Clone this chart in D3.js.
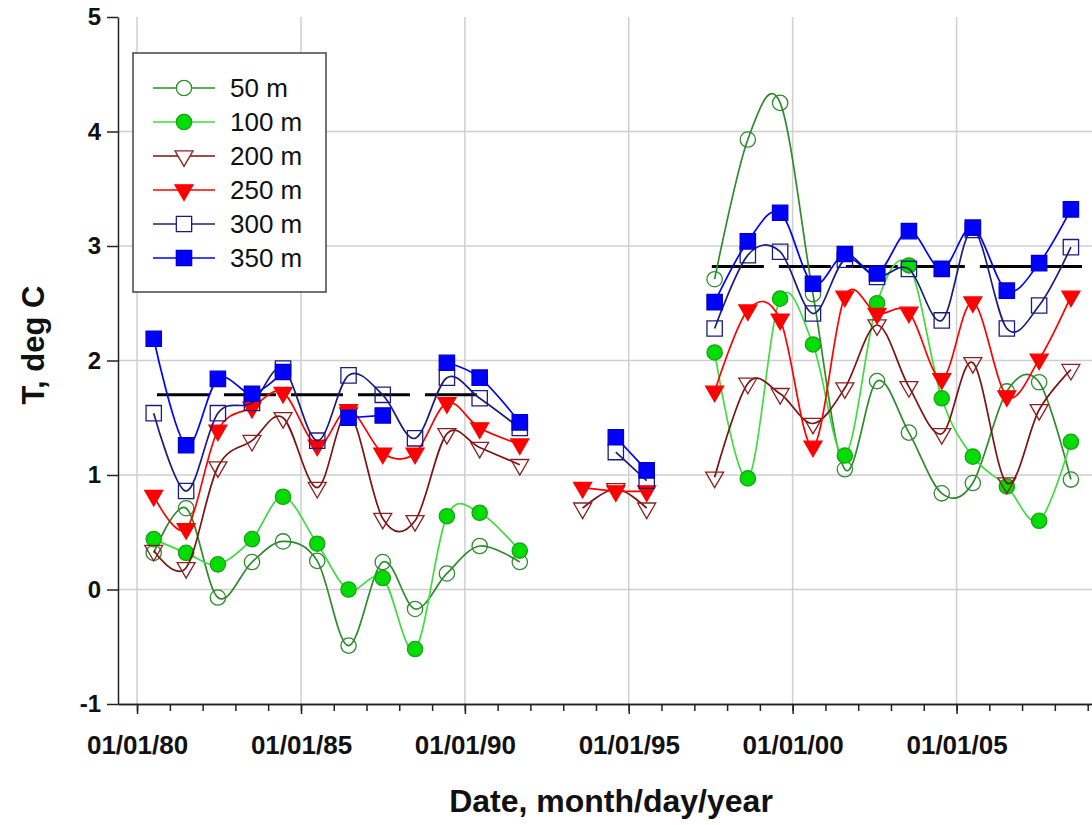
<!DOCTYPE html>
<html><head><meta charset="utf-8">
<script src="https://cdn.jsdelivr.net/npm/d3@7"></script>
<style>
body{margin:0;background:#fff;}
svg{display:block;font-family:"Liberation Sans",Arial,Helvetica,sans-serif;}
</style>
</head><body>
<svg id="chart" width="1092" height="825"></svg>
<script>
// ---------------- data ----------------
const dates = [
  "1980-07-05","1981-07-01","1982-06-20","1983-07-05","1984-06-15","1985-07-01",
  "1986-06-15","1987-07-01","1988-06-25","1989-06-15","1990-06-15","1991-09-05",
  "1993-08-05","1994-08-10","1995-07-20",
  "1997-08-15","1998-08-20","1999-08-15","2000-08-15","2001-08-05","2002-07-30",
  "2003-07-20","2004-07-20","2005-07-01","2006-07-15","2007-07-10","2008-06-28"
];
const t50  = [0.32,0.71,-0.07,0.24,0.42,0.25,-0.49,0.24,-0.17,0.14,0.38,0.24,
              null,null,null,
              2.71,3.93,4.25,2.58,1.05,1.82,1.37,0.84,0.93,1.73,1.81,0.96];
const t100 = [0.44,0.32,0.22,0.44,0.81,0.40,0.00,0.10,-0.52,0.64,0.67,0.34,
              null,null,null,
              2.07,0.97,2.54,2.14,1.17,2.50,2.83,1.67,1.16,0.90,0.60,1.29];
const t200 = [0.34,0.19,1.07,1.30,1.50,0.89,1.54,0.62,0.60,1.36,1.24,1.09,
              0.71,0.88,0.71,
              0.98,1.80,1.71,1.45,1.76,2.31,1.77,1.36,1.98,0.93,1.57,1.92];
const t250 = [0.82,0.53,1.39,1.59,1.72,1.26,1.57,1.19,1.19,1.63,1.41,1.27,
              0.89,0.86,0.86,
              1.73,2.44,2.36,1.25,2.56,2.41,2.42,1.84,2.51,1.69,2.01,2.56];
const t300 = [1.54,0.86,1.54,1.63,1.93,1.30,1.87,1.70,1.32,1.85,1.67,1.41,
              null,1.20,0.95,
              2.28,2.92,2.95,2.41,2.88,2.73,2.80,2.35,3.14,2.28,2.48,2.99];
const t350 = [2.19,1.26,1.84,1.71,1.90,null,1.50,1.52,null,1.98,1.85,1.46,
              null,1.33,1.04,
              2.51,3.04,3.29,2.67,2.93,2.76,3.13,2.80,3.16,2.61,2.85,3.32];
const seriesLabels = ["50 m","100 m","200 m","250 m","300 m","350 m"];
const meanValues = [1.70, 2.82];
const meanStarts = ["1980-08-10","1997-07-15"];
const meanEnds   = ["1990-05-15","2008-10-30"];
const yTickValues = [-1,0,1,2,3,4,5];
const yGridValues = [0,1,2,3,4];
const xMajorYears = [1980,1985,1990,1995,2000,2005];
const xMinorYears = d3.range(1980,2010);

// ---------------- setup ----------------
const parse = d3.timeParse("%Y-%m-%d");
const dateObjs = dates.map(parse);
const svg = d3.select("#chart");
const X0 = 118, X1 = 1092, Y0 = 704, Y1 = 17;
const x = d3.scaleTime().domain([parse("1979-06-03"), parse("2009-02-18")]).range([X0, X1]);
const y = d3.scaleLinear().domain([-1,5]).range([Y0, Y1]);

// grid
const grid = svg.append("g").attr("stroke","#cfcfcf").attr("stroke-width",1.5);
grid.selectAll("line.h").data(yGridValues).join("line").attr("class","h")
  .attr("x1",X0).attr("x2",X1).attr("y1",d=>y(d)).attr("y2",d=>y(d));
grid.selectAll("line.v").data(xMajorYears).join("line").attr("class","v")
  .attr("x1",d=>x(new Date(d,0,1))).attr("x2",d=>x(new Date(d,0,1)))
  .attr("y1",Y1).attr("y2",Y0);

// mean dashed lines
svg.append("g").selectAll("line").data(meanValues).join("line")
  .attr("x1",(d,i)=>x(parse(meanStarts[i]))).attr("x2",(d,i)=>x(parse(meanEnds[i])))
  .attr("y1",d=>y(d)).attr("y2",d=>y(d))
  .attr("stroke","#000").attr("stroke-width",3).attr("stroke-dasharray","52,15");

// series
const series = [
  {name:seriesLabels[0], vals:t50,  line:"#2e8b2e", stroke:"#2e8b2e", fill:"none",    sym:d3.symbolCircle, size:185, rot:0},
  {name:seriesLabels[1], vals:t100, line:"#3fdc3f", stroke:"#1e9e1e", fill:"#00dd00", sym:d3.symbolCircle, size:185, rot:0},
  {name:seriesLabels[2], vals:t200, line:"#7d1212", stroke:"#8a2020", fill:"none",    sym:d3.symbolTriangle, size:140, rot:180},
  {name:seriesLabels[3], vals:t250, line:"#ff0000", stroke:"#ff0000", fill:"#ff0000", sym:d3.symbolTriangle, size:140, rot:180},
  {name:seriesLabels[4], vals:t300, line:"#1c1c80", stroke:"#1c1c80", fill:"none",    sym:d3.symbolSquare, size:235, rot:0},
  {name:seriesLabels[5], vals:t350, line:"#0000ff", stroke:"#0000cc", fill:"#0000ff", sym:d3.symbolSquare, size:235, rot:0}
];
const maxGap = 550*24*3600*1000;
function segments(vals){
  const segs=[]; let cur=[];
  vals.forEach((v,i)=>{
    if(v==null){ if(cur.length) segs.push(cur); cur=[]; return; }
    if(cur.length && (dateObjs[i]-cur[cur.length-1].d) > maxGap){ segs.push(cur); cur=[]; }
    cur.push({d:dateObjs[i], v});
  });
  if(cur.length) segs.push(cur);
  return segs;
}
const lineGen = d3.line().x(p=>x(p.d)).y(p=>y(p.v)).curve(d3.curveCardinal.tension(0));

series.forEach(s=>{
  const g = svg.append("g");
  g.selectAll("path.ln").data(segments(s.vals)).join("path").attr("class","ln")
    .attr("d",lineGen).attr("fill","none").attr("stroke",s.line).attr("stroke-width",1.7);
  const pts = s.vals.map((v,i)=>({d:dateObjs[i],v})).filter(p=>p.v!=null);
  g.selectAll("path.mk").data(pts).join("path").attr("class","mk")
    .attr("d",d3.symbol(s.sym,s.size))
    .attr("transform",p=>`translate(${x(p.d)},${y(p.v)}) rotate(${s.rot})`)
    .attr("fill",s.fill).attr("stroke",s.stroke).attr("stroke-width",1.3);
});

// axes
const yAxis = d3.axisLeft(y).tickValues(yTickValues).tickFormat(d=>String(d))
  .tickSize(11).tickPadding(6).tickSizeOuter(0);
const gy = svg.append("g").attr("transform",`translate(${X0},0)`).call(yAxis);
gy.selectAll("text").attr("font-size",24).attr("font-weight","bold").attr("fill","#111");

const xMinor = d3.axisBottom(x).tickValues(xMinorYears.map(yy=>new Date(yy,0,1)))
  .tickFormat("").tickSize(7).tickSizeOuter(0);
svg.append("g").attr("transform",`translate(0,${Y0})`).call(xMinor);
const xMajor = d3.axisBottom(x).tickValues(xMajorYears.map(yy=>new Date(yy,0,1)))
  .tickFormat(d3.timeFormat("%m/%d/%y")).tickSize(10).tickPadding(22).tickSizeOuter(0);
const gx = svg.append("g").attr("transform",`translate(0,${Y0})`).call(xMajor);
gx.selectAll("text").attr("font-size",26).attr("font-weight","bold").attr("fill","#111");
svg.selectAll(".domain, .tick line").attr("stroke","#222").attr("stroke-width",1.5);

// axis titles
svg.append("text").attr("x",611).attr("y",812).attr("text-anchor","middle")
  .attr("font-size",32).attr("font-weight","bold").attr("fill","#111")
  .text("Date, month/day/year");
svg.append("text").attr("transform","translate(44,345) rotate(-90)").attr("text-anchor","middle")
  .attr("font-size",31).attr("font-weight","bold").attr("fill","#111")
  .text("T, deg C");

// legend
const lg = svg.append("g");
lg.append("rect").attr("x",133).attr("y",53).attr("width",193).attr("height",239)
  .attr("fill","#fff").attr("stroke","#444").attr("stroke-width",1.5);
series.forEach((s,i)=>{
  const ry = 88 + i*34;
  lg.append("line").attr("x1",153).attr("x2",215).attr("y1",ry).attr("y2",ry)
    .attr("stroke",s.line).attr("stroke-width",1.7);
  lg.append("path").attr("d",d3.symbol(s.sym,s.size))
    .attr("transform",`translate(184,${ry}) rotate(${s.rot})`)
    .attr("fill",s.fill==="none"?"#fff":s.fill).attr("stroke",s.stroke).attr("stroke-width",1.3);
  lg.append("text").attr("x",230).attr("y",ry).attr("dy","0.36em")
    .attr("font-size",26).attr("fill","#111").text(s.name);
});
</script>
</body></html>
